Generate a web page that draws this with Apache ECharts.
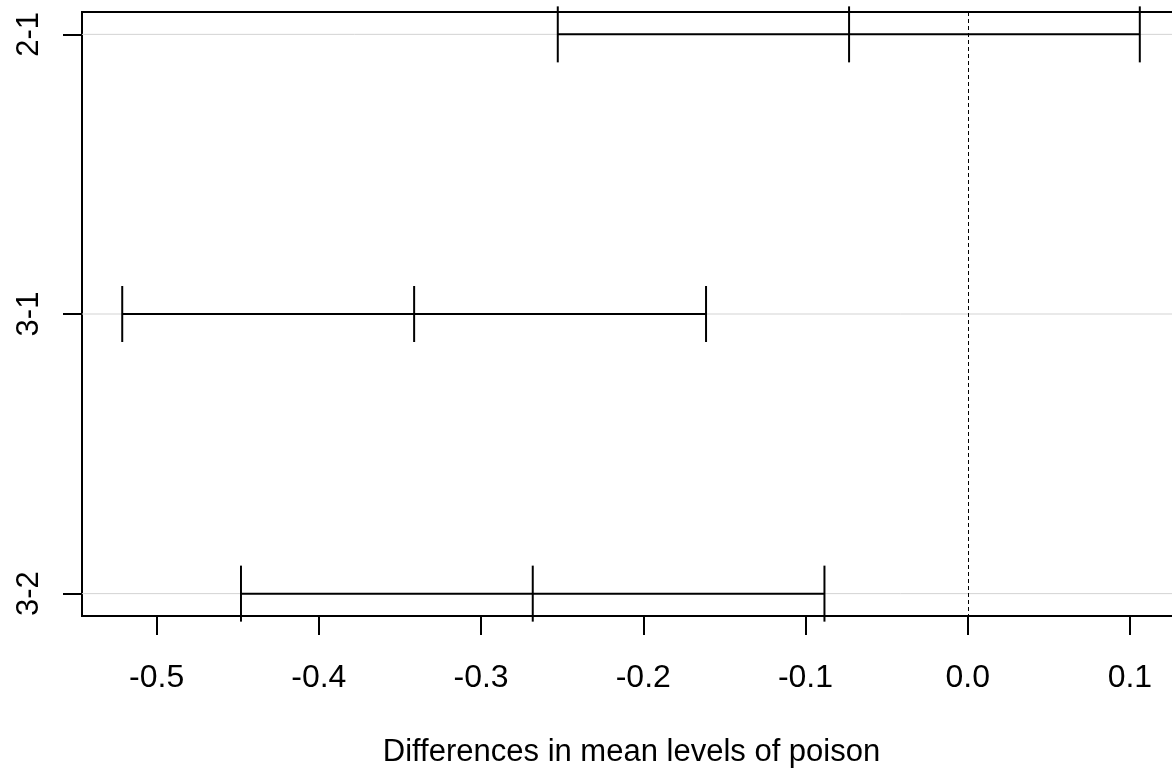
<!DOCTYPE html>
<html>
<head>
<meta charset="utf-8">
<script src="https://cdn.jsdelivr.net/npm/echarts@6/dist/echarts.min.js"></script>
<style>html,body{margin:0;padding:0;background:#fff;}#c{width:1172px;height:769px;}</style>
</head>
<body>
<div id="c"></div>
<script>
const comparisons = ['2-1', '3-1', '3-2'];
const diffs = [-0.073125, -0.34125, -0.268125];
const lower = [-0.2527, -0.5212, -0.4480];
const upper = [0.1061, -0.1613, -0.0883];
const xTicks = [-0.5, -0.4, -0.3, -0.2, -0.1, 0.0, 0.1];
const yPositions = [1, 2, 3];
const xTitle = 'Differences in mean levels of poison';

const FONT = 'Liberation Sans, Arial, sans-serif';
const xMin = -0.546, xMax = 0.1315;

const chart = echarts.init(document.getElementById('c'), null, {renderer: 'canvas'});

const barData = comparisons.map((c, i) => [yPositions[i], lower[i], diffs[i], upper[i]]);

chart.setOption({
  backgroundColor: '#ffffff',
  animation: false,
  grid: {left: 82, top: 12, width: 1099, height: 604, show: true, borderColor: '#000', borderWidth: 2,
    backgroundColor: 'transparent', containLabel: false, outerBoundsMode: 'none'},
  xAxis: {
    type: 'value', min: xMin, max: xMax, position: 'bottom',
    name: xTitle, nameLocation: 'middle', nameGap: 121,
    nameTextStyle: {color: '#000', fontSize: 31, fontFamily: FONT},
    axisLine: {show: false, onZero: false},
    axisTick: {show: true, customValues: xTicks, length: 19, lineStyle: {color: '#000', width: 2}},
    axisLabel: {customValues: xTicks, color: '#000', fontSize: 32, fontFamily: FONT, margin: 46,
      formatter: v => v.toFixed(1)},
    splitLine: {show: false}
  },
  yAxis: {
    type: 'value', min: 0.92, max: 3.08, inverse: true, position: 'left',
    axisLine: {show: false, onZero: false},
    axisTick: {show: true, customValues: yPositions, length: 19, lineStyle: {color: '#000', width: 2}},
    axisLabel: {customValues: yPositions, rotate: 90, color: '#000', fontSize: 31, fontFamily: FONT, margin: 37,
      formatter: v => comparisons[yPositions.indexOf(Math.round(v))] || ''},
    splitLine: {show: false}
  },
  series: [
    {
      type: 'custom', silent: true, z: 1,
      data: yPositions.map(y => [y]),
      renderItem: (params, api) => {
        const y = api.coord([xMin, api.value(0)])[1];
        const cs = params.coordSys;
        return {type: 'line', shape: {x1: cs.x, y1: y, x2: cs.x + cs.width, y2: y},
          style: {stroke: '#d3d3d3', lineWidth: 1}};
      }
    },
    {
      type: 'custom', silent: true, z: 2,
      data: [[0]],
      renderItem: (params, api) => {
        const x = api.coord([api.value(0), 1])[0];
        const cs = params.coordSys;
        return {type: 'line', shape: {x1: Math.round(x) + 0.5, y1: cs.y, x2: Math.round(x) + 0.5, y2: cs.y + cs.height},
          style: {stroke: '#000', lineWidth: 1, lineDash: [4, 3]}};
      }
    },
    {
      type: 'custom', z: 3,
      data: barData,
      encode: {x: [1, 2, 3], y: 0},
      renderItem: (params, api) => {
        const yv = api.value(0);
        const pL = api.coord([api.value(1), yv]);
        const pM = api.coord([api.value(2), yv]);
        const pU = api.coord([api.value(3), yv]);
        const h = 28;
        const st = {stroke: '#000', lineWidth: 2};
        return {type: 'group', children: [
          {type: 'line', shape: {x1: pL[0], y1: pL[1], x2: pU[0], y2: pU[1]}, style: st},
          {type: 'line', shape: {x1: pL[0], y1: pL[1] - h, x2: pL[0], y2: pL[1] + h}, style: st},
          {type: 'line', shape: {x1: pM[0], y1: pM[1] - h, x2: pM[0], y2: pM[1] + h}, style: st},
          {type: 'line', shape: {x1: pU[0], y1: pU[1] - h, x2: pU[0], y2: pU[1] + h}, style: st}
        ]};
      }
    }
  ]
});
</script>
</body>
</html>
